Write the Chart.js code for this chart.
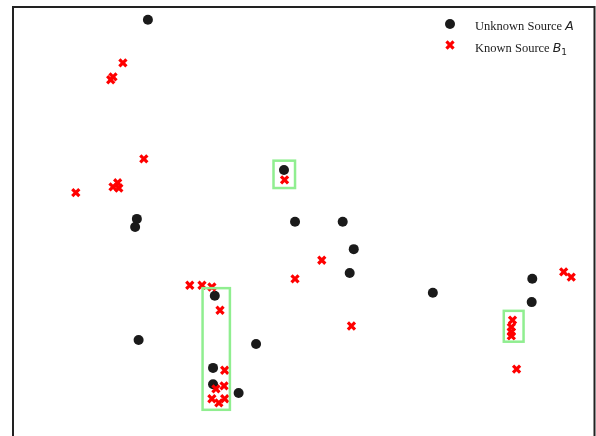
<!DOCTYPE html>
<html>
<head>
<meta charset="utf-8">
<script src="https://cdn.jsdelivr.net/npm/chart.js@4/dist/chart.umd.min.js"></script>
<style>
  html, body { margin: 0; padding: 0; background: #fff; overflow: hidden; width: 596px; height: 436px; }
  #wrap { position: relative; width: 596px; height: 436px; overflow: hidden; }
  #scatterChart { display: block; }
  #legend {
    position: absolute; left: 475px; top: 15px;
    font-family: "Liberation Serif", "DejaVu Serif", serif; font-size: 12.5px; color: #222;
    line-height: 21px;
  }
  #legend .m { font-family: "DejaVu Sans", sans-serif; font-style: italic; font-size: 12.5px; }
  #legend sub { font-family: "DejaVu Sans", sans-serif; font-style: normal; font-size: 9px; vertical-align: -3px; }
</style>
</head>
<body>
<div id="wrap">
  <canvas id="scatterChart" width="596" height="436"></canvas>
  <div id="legend">
    <div>Unknown Source <span class="m">A</span></div>
    <div>Known Source <span class="m">B</span><sub>1</sub></div>
  </div>
</div>
<script>
// unknown source A (black dots)
const unknownX = [2.32, 4.66, 2.13, 2.10, 4.85, 5.67, 5.86, 5.79, 7.22, 8.93, 8.92, 3.47, 2.16, 4.18, 3.44, 3.44, 3.88];
const unknownY = [7.15, 4.57, 3.73, 3.59, 3.68, 3.68, 3.21, 2.80, 2.46, 2.70, 2.30, 2.41, 1.65, 1.58, 1.17, 0.89, 0.74];

// known source B1 (red crosses)
const knownX = [1.89, 1.72, 1.68, 2.25, 1.08, 1.72, 1.80, 1.82, 4.67, 5.31, 4.85, 3.04, 3.25, 3.42, 3.56, 5.82,
                3.64, 3.49, 3.63, 3.42, 3.54, 3.64, 8.59, 8.57, 8.57, 8.57, 8.66, 9.47, 9.60];
const knownY = [6.41, 6.17, 6.12, 4.76, 4.18, 4.28, 4.35, 4.26, 4.40, 3.02, 2.70, 2.59, 2.59, 2.56, 2.16, 1.89,
                1.13, 0.81, 0.86, 0.64, 0.57, 0.64, 1.99, 1.87, 1.79, 1.72, 1.15, 2.82, 2.73];

// highlighted groups: [xmin, xmax, ymin, ymax]
const boxes = [
    [4.48, 4.85, 4.26, 4.73],
    [3.26, 3.73, 0.45, 2.54],
    [8.44, 8.78, 1.62, 2.15]
];

const xRange = [0, 10];
const yRange = [0, 7.37];

function toPoints(xs, ys) {
    return xs.map((x, i) => ({ x: x, y: ys[i] }));
}

// frame (left, top, right only, bottom sits below the window) and green boxes
const framePlugin = {
    id: 'frameAndBoxes',
    afterDatasetsDraw(chart) {
        const ctx = chart.ctx;
        const a = chart.chartArea;
        const xs = chart.scales.x, ys = chart.scales.y;

        ctx.save();
        ctx.strokeStyle = '#90ee90';
        ctx.lineWidth = 2.5;
        boxes.forEach(b => {
            const x0 = xs.getPixelForValue(b[0]), x1 = xs.getPixelForValue(b[1]);
            const y0 = ys.getPixelForValue(b[3]), y1 = ys.getPixelForValue(b[2]);
            ctx.strokeRect(x0, y0, x1 - x0, y1 - y0);
        });

        ctx.strokeStyle = '#222';
        ctx.lineWidth = 2;
        ctx.beginPath();
        ctx.moveTo(a.left, a.bottom + 5);
        ctx.lineTo(a.left, a.top);
        ctx.lineTo(a.right, a.top);
        ctx.lineTo(a.right, a.bottom + 5);
        ctx.stroke();

        // legend markers, styled like the datasets
        chart.data.datasets.forEach((ds, i) => {
            ctx.fillStyle = ds.pointBackgroundColor;
            ctx.strokeStyle = ds.pointBorderColor;
            ctx.lineWidth = ds.pointBorderWidth;
            Chart.helpers.drawPoint(ctx, {
                pointStyle: ds.pointStyle, radius: ds.pointRadius, rotation: 0,
                borderWidth: ds.pointBorderWidth
            }, 450, 24 + i * 21);
        });
        ctx.restore();
    }
};

new Chart(document.getElementById('scatterChart'), {
    type: 'scatter',
    data: {
        datasets: [{
            label: 'Unknown Source A',
            data: toPoints(unknownX, unknownY),
            pointStyle: 'circle',
            pointRadius: 5,
            pointBackgroundColor: '#1a1a1a',
            pointBorderColor: '#1a1a1a',
            pointBorderWidth: 0,
            clip: false,
            order: 2
        }, {
            label: 'Known Source B1',
            data: toPoints(knownX, knownY),
            pointStyle: 'crossRot',
            pointRadius: 5,
            pointBackgroundColor: '#ff0000',
            pointBorderColor: '#ff0000',
            pointBorderWidth: 3.2,
            clip: false,
            order: 1
        }]
    },
    options: {
        responsive: false,
        animation: false,
        layout: { autoPadding: false, padding: { left: 13, top: 7, right: 1.5, bottom: 0 } },
        scales: {
            x: { type: 'linear', min: xRange[0], max: xRange[1], display: false },
            y: { type: 'linear', min: yRange[0], max: yRange[1], display: false }
        },
        plugins: {
            legend: { display: false },
            tooltip: { enabled: false }
        }
    },
    plugins: [framePlugin]
});
</script>
</body>
</html>
